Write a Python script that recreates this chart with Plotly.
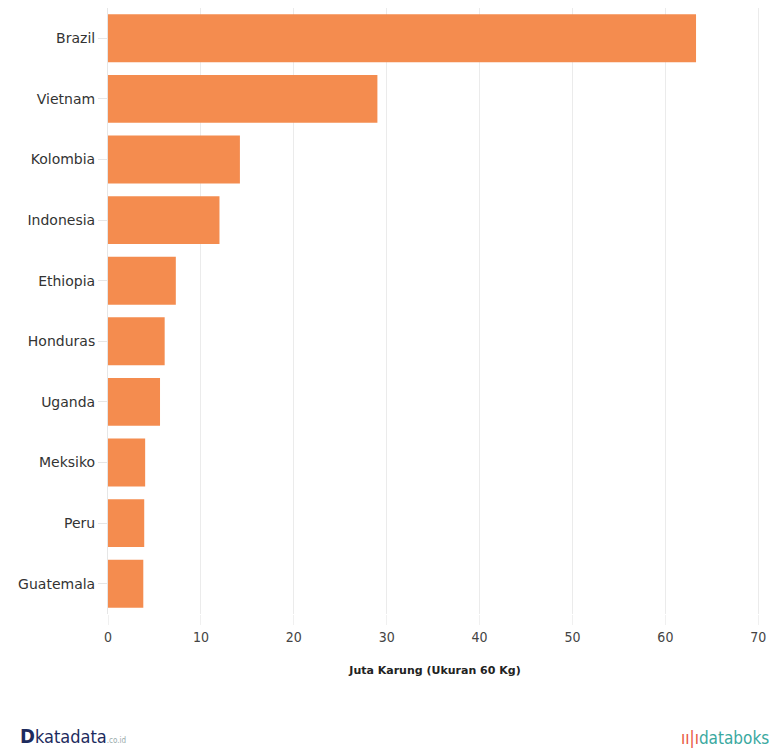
import plotly.graph_objects as go

countries = ["Brazil", "Vietnam", "Kolombia", "Indonesia", "Ethiopia",
             "Honduras", "Uganda", "Meksiko", "Peru", "Guatemala"]
values = [63.3, 29.0, 14.2, 12.0, 7.3, 6.1, 5.6, 4.0, 3.9, 3.8]
x_ticks = [0, 10, 20, 30, 40, 50, 60, 70]
x_title = "Juta Karung (Ukuran 60 Kg)"

fig = go.Figure(go.Bar(
    x=values, y=countries, orientation="h",
    marker=dict(color="#F48C4F", line=dict(width=0)),
    width=0.79,
))

fig.update_layout(
    width=770, height=743,
    margin=dict(l=100, r=16, t=0, b=137),
    paper_bgcolor="white", plot_bgcolor="white",
    font=dict(family="DejaVu Sans", size=14, color="#333"),
    showlegend=False,
    xaxis=dict(range=[0, 70.4], tickvals=x_ticks, showgrid=True,
               gridcolor="#ebebeb", gridwidth=1, zeroline=False,
               ticks="outside", ticklen=10, tickcolor="#f0f0f0",
               tickfont=dict(family="DejaVu Sans Condensed", size=14, color="#444"),
               title=dict(text="<b>" + x_title + "</b>",
                          font=dict(size=11, color="#222"), standoff=22),
               showline=False),
    yaxis=dict(categoryorder="array", categoryarray=countries[::-1],
               ticks="outside", ticklen=9, tickcolor="#e6e6e6",
               tickfont=dict(size=14, color="#333"),
               showline=True, linecolor="#e6e6e6", linewidth=1,
               showgrid=False),
)

fig.add_annotation(
    x=0.0, y=0.0, xref="paper", yref="paper",
    xshift=-90, yshift=-136, xanchor="left", yanchor="bottom",
    text="<b><span style='font-size:20px;color:#1d2b5e'>D</span></b>"
         "<span style='font-size:18px;color:#1d2b5e'>katadata</span>"
         "<span style='font-size:8px;color:#9aa'>.co.id</span>",
    showarrow=False, font=dict(family="DejaVu Sans Condensed"),
)
fig.add_annotation(
    x=1.0, y=0.0, xref="paper", yref="paper",
    xshift=9, yshift=-136, xanchor="right", yanchor="bottom",
    text="<span style='color:#e8543c'>ıı|ı</span>"
         "<span style='color:#3aa99f'>databoks</span>",
    showarrow=False, font=dict(family="DejaVu Sans Condensed", size=17),
)

fig.write_html("out.html")
